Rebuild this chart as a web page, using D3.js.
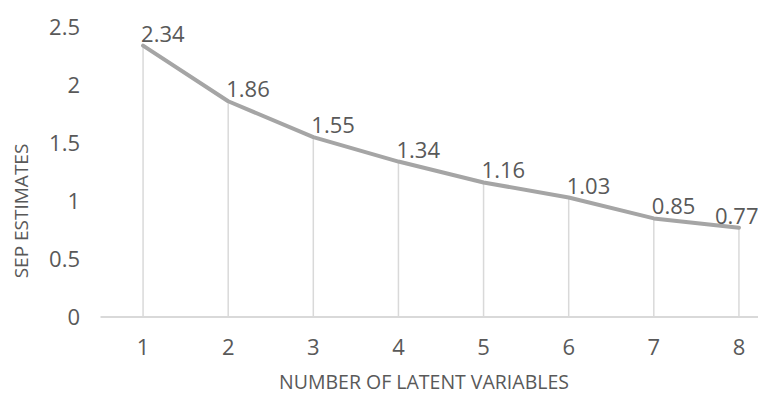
<!DOCTYPE html>
<html><head><meta charset="utf-8">
<script src="https://cdn.jsdelivr.net/npm/d3@7"></script>
<style>body{margin:0;background:#fff}svg{display:block}</style>
</head><body>
<script>
const categories = ["1","2","3","4","5","6","7","8"];
const values = [2.34,1.86,1.55,1.34,1.16,1.03,0.85,0.77];
const yTicks = [0,0.5,1,1.5,2,2.5];
const xTitle = "NUMBER OF LATENT VARIABLES";
const yTitle = "SEP ESTIMATES";

const W = 758, H = 397;
const font = "'Open Sans', sans-serif";
const txt = "#595959";
const svg = d3.select("body").append("svg").attr("width", W).attr("height", H);

const x = d3.scaleBand().domain(categories).range([100.5, 781.5]);
const y = d3.scaleLinear().domain([0, 2.5]).range([317, 27]);
const cx = c => x(c) + x.bandwidth() / 2;

// y tick labels
svg.append("g").selectAll("text").data(yTicks).join("text")
  .attr("x", 80).attr("y", d => y(d)).attr("dy", "0.35em")
  .attr("text-anchor", "end").attr("font-family", font).attr("font-size", 22)
  .attr("fill", txt).text(d => d);

// drop lines
svg.append("g").selectAll("line").data(categories).join("line")
  .attr("x1", cx).attr("x2", cx)
  .attr("y1", (c, i) => y(values[i])).attr("y2", y(0))
  .attr("stroke", "#d9d9d9").attr("stroke-width", 1.5);

// x axis line
svg.append("line").attr("x1", x.range()[0]).attr("x2", x.range()[1])
  .attr("y1", y(0)).attr("y2", y(0)).attr("stroke", "#d9d9d9").attr("stroke-width", 2);

// x tick labels
svg.append("g").selectAll("text").data(categories).join("text")
  .attr("x", cx).attr("y", 347).attr("dy", "0.35em")
  .attr("text-anchor", "middle").attr("font-family", font).attr("font-size", 22)
  .attr("fill", txt).text(d => d);

// line
const line = d3.line().x((d, i) => cx(categories[i])).y(d => y(d));
svg.append("path").datum(values).attr("d", line)
  .attr("fill", "none").attr("stroke", "#a5a5a5").attr("stroke-width", 4)
  .attr("stroke-linejoin", "round").attr("stroke-linecap", "round");

// data labels
svg.append("g").selectAll("text").data(values).join("text")
  .attr("x", (d, i) => {
    const px = cx(categories[i]) - 2;
    return px + 44 > W ? px - 22 : px;
  })
  .attr("y", d => y(d) - 4)
  .attr("font-family", font).attr("font-size", 22).attr("fill", txt)
  .text(d => d.toFixed(2));

// axis titles
svg.append("text").attr("x", 424).attr("y", 382).attr("dy", "0.35em")
  .attr("text-anchor", "middle").attr("font-family", font).attr("font-size", 19.5)
  .attr("fill", txt).text(xTitle);
svg.append("text").attr("transform", "translate(21,211) rotate(-90)").attr("dy", "0.35em")
  .attr("text-anchor", "middle").attr("font-family", font).attr("font-size", 19)
  .attr("fill", txt).text(yTitle);
</script>
</body></html>
